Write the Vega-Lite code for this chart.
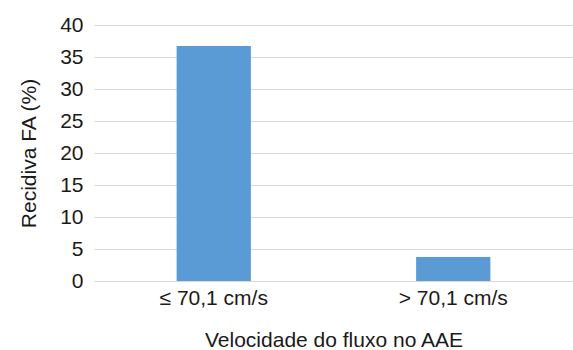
{
  "$schema": "https://vega.github.io/schema/vega-lite/v6.json",
  "width": 479,
  "height": 256,
  "autosize": {"type": "none"},
  "padding": {"left": 94, "top": 25, "right": 0, "bottom": 69},
  "background": "white",
  "config": {
    "view": {"stroke": null},
    "font": "Liberation Sans",
    "axis": {"labelFont": "Liberation Sans", "titleFont": "Liberation Sans", "labelColor": "#1a1a1a", "titleColor": "#1a1a1a", "titleFontWeight": "normal"}
  },
  "data": {
    "values": [
      {"categoria": "≤ 70,1 cm/s", "recidiva": 36.7},
      {"categoria": "> 70,1 cm/s", "recidiva": 3.75}
    ]
  },
  "mark": {"type": "bar", "color": "#5b9bd5"},
  "encoding": {
    "x": {
      "field": "categoria",
      "type": "nominal",
      "sort": null,
      "scale": {"paddingInner": 0.69, "paddingOuter": 0.345},
      "axis": {
        "title": "Velocidade do fluxo no AAE",
        "labelAngle": 0,
        "labelFontSize": 21,
        "titleFontSize": 21,
        "ticks": false,
        "domain": false,
        "labelPadding": 6,
        "titlePadding": 21
      }
    },
    "y": {
      "field": "recidiva",
      "type": "quantitative",
      "scale": {"domain": [0, 40]},
      "axis": {
        "title": "Recidiva FA (%)",
        "values": [0, 5, 10, 15, 20, 25, 30, 35, 40],
        "labelFontSize": 21,
        "titleFontSize": 21,
        "ticks": false,
        "domain": false,
        "labelPadding": 11,
        "titlePadding": 20,
        "gridColor": "#d9d9d9",
        "gridWidth": 1
      }
    }
  }
}
